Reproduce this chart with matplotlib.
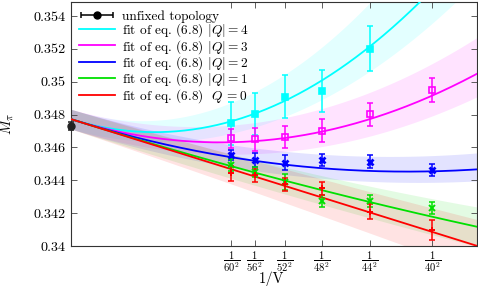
import numpy as np
import matplotlib
matplotlib.use("Agg")
import matplotlib.pyplot as plt
from matplotlib.legend_handler import HandlerErrorbar
from matplotlib.container import ErrorbarContainer

plt.rcParams['font.family'] = 'serif'
plt.rcParams['font.serif'] = ['cmr10']
plt.rcParams['mathtext.fontset'] = 'cm'
plt.rcParams['axes.formatter.use_mathtext'] = True

# ---------------- data ----------------
L_values = [60, 56, 52, 48, 44, 40]
xtick_labels = [r'$\dfrac{1}{60^2}$', r'$\dfrac{1}{56^2}$', r'$\dfrac{1}{52^2}$',
                r'$\dfrac{1}{48^2}$', r'$\dfrac{1}{44^2}$', r'$\dfrac{1}{40^2}$']
ytick_values = [0.340, 0.342, 0.344, 0.346, 0.348, 0.350, 0.352, 0.354]
ytick_labels = ['0.34', '0.342', '0.344', '0.346', '0.348', '0.35', '0.352', '0.354']

Q_labels = [4, 3, 2, 1, 0]
legend_labels = [r'fit of eq. (6.8) $|Q|=4$', r'fit of eq. (6.8) $|Q|=3$',
                 r'fit of eq. (6.8) $|Q|=2$', r'fit of eq. (6.8) $|Q|=1$',
                 r'fit of eq. (6.8)  $Q\,=0$']

# measured points (|Q| = 4 has only L = 60..44 inside the range)
mq4 = [0.34747, 0.34803, 0.34909, 0.34943, 0.35201]
eq4 = [0.0013, 0.0013, 0.0013, 0.00127, 0.00137]
mq3 = [0.34655, 0.34649, 0.34665, 0.34702, 0.34801, 0.34949]
eq3 = [0.0006, 0.0007, 0.00068, 0.00068, 0.00068, 0.00075]
mq2 = [0.34554, 0.34523, 0.34507, 0.34523, 0.34513, 0.34463]
eq2 = [0.0003, 0.0004, 0.00045, 0.00037, 0.0004, 0.00038]
mq1 = [0.34493, 0.34452, 0.34391, 0.34272, 0.34272, 0.34229]
eq1 = [0.00037, 0.0003, 0.0005, 0.00037, 0.00036, 0.00036]
mq0 = [0.34442, 0.3443, 0.34375, 0.3435, 0.34209, 0.34097]
eq0 = [0.00044, 0.0004, 0.0004, 0.00037, 0.00046, 0.0006]

unfixed_x = [0.0]
unfixed_m = [0.34732]
unfixed_e = [0.00024]

# fit of eq. (6.8): M(Q,V) = M0 + A/V + C Q^2 / V^2
fit_M0 = 0.34773
fit_A = -11.0
fit_C = 2362.0

# band half-widths (upper, lower) read at 1/V = 0, 3.5e-4, 7e-4
band_nodes = [0.0, 3.5e-4, 7.0e-4]
band_up = {4: [0.0006, 0.0015, 0.0045], 3: [0.0006, 0.0012, 0.0022],
           2: [0.0006, 0.0008, 0.0010], 1: [0.0006, 0.0008, 0.0012],
           0: [0.0006, 0.0010, 0.0016]}
band_lo = {4: [0.0006, 0.0009, 0.0025], 3: [0.0006, 0.0008, 0.0014],
           2: [0.0006, 0.0006, 0.0007], 1: [0.0006, 0.0008, 0.0012],
           0: [0.0006, 0.0010, 0.0016]}

colors = {4: '#00ffff', 3: '#ff00ff', 2: '#0000ff', 1: '#00e000', 0: '#ff0000'}
markers = {4: dict(marker='s', mfc='#00ffff', mew=1.2), 3: dict(marker='s', mfc='none', mew=1.2),
           2: dict(marker='x', mfc='none', mew=2.0), 1: dict(marker='x', mfc='none', mew=1.4),
           0: dict(marker='+', mfc='none', mew=1.4)}
points = {4: (mq4, eq4), 3: (mq3, eq3), 2: (mq2, eq2), 1: (mq1, eq1), 0: (mq0, eq0)}

# ---------------- plot ----------------
fig = plt.figure(figsize=(4.78, 2.86), dpi=100)
ax = fig.add_axes([70.5 / 478, 1 - 246 / 286, (477 - 70.5) / 478, 244 / 286])

xs = 1.0 / np.array(L_values, dtype=float) ** 2
xmax = 7.02e-4
xg = np.linspace(0, xmax, 400)

line_handles = []
for q in Q_labels:
    f = fit_M0 + fit_A * xg + fit_C * q ** 2 * xg ** 2
    pu = np.polyfit(band_nodes, band_up[q], 2)
    pl = np.polyfit(band_nodes, band_lo[q], 2)
    ax.fill_between(xg, f - np.polyval(pl, xg), f + np.polyval(pu, xg),
                    color=colors[q], alpha=0.11, lw=0, zorder=1)

for q, lab in zip(Q_labels, legend_labels):
    f = fit_M0 + fit_A * xg + fit_C * q ** 2 * xg ** 2
    h, = ax.plot(xg, f, color=colors[q], lw=1.3, zorder=3, label=lab)
    line_handles.append(h)

for q in Q_labels:
    m, e = points[q]
    ax.errorbar(xs[:len(m)], m, yerr=e, fmt='none', ecolor=colors[q],
                elinewidth=1.1, capsize=2.5, capthick=1.1, zorder=4)
    mk = markers[q]
    ax.plot(xs[:len(m)], m, ls='none', marker=mk['marker'], mfc=mk['mfc'],
            mec=colors[q], mew=mk['mew'], ms=4.5, zorder=5)

ax.errorbar(unfixed_x, unfixed_m, yerr=unfixed_e, fmt='o', color='#222222',
            ms=5, elinewidth=1.1, capsize=2.5, capthick=1.1, zorder=6, clip_on=False)

# legend proxy for the black point (drawn outside the visible range)
proxy = ax.errorbar([-1.0], [0.30], xerr=[0.1], fmt='o', color='black', ms=5,
                    elinewidth=1.1, capsize=2.5, capthick=1.1)

ax.set_xlim(0, xmax)
ax.set_ylim(0.34, 0.34 + 244 / 16.43 * 0.001)
ax.set_xticks(xs)
ax.set_xticklabels(xtick_labels, fontsize=7.6)
ax.set_yticks(ytick_values)
ax.set_yticklabels(ytick_labels, fontsize=10.2)
ax.tick_params(direction='in', top=True, right=True, length=4, width=0.6, color='#444444')
ax.tick_params(axis='x', pad=2.5)
for s in ax.spines.values():
    s.set_linewidth(0.8)
    s.set_color('#333333')

ax.set_xlabel('1/V', fontsize=10.5)
ax.xaxis.label.set_va('center')
ax.xaxis.set_label_coords(0.495, -0.135)
ax.set_ylabel(r'$M_\pi$', fontsize=10.5, labelpad=12)

leg = ax.legend([proxy] + line_handles, ['unfixed topology'] + legend_labels,
                loc='upper left', bbox_to_anchor=(0.0, 1.0), frameon=False,
                fontsize=9.6, handlelength=2.75, handletextpad=0.5,
                labelspacing=-0.1, borderaxespad=0.2,
                handler_map={ErrorbarContainer: HandlerErrorbar(xerr_size=1.2)})

fig.savefig('out.png', dpi=100)
